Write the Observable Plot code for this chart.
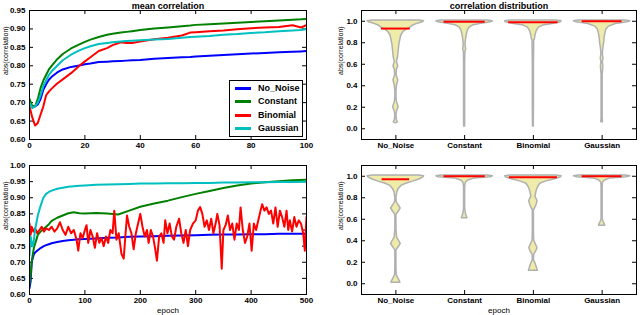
<!DOCTYPE html>
<html><head><meta charset="utf-8">
<script src="https://cdn.jsdelivr.net/npm/d3@7"></script>
<script src="https://cdn.jsdelivr.net/npm/@observablehq/plot@0.6"></script>
<style>
body{margin:0;background:#fff;}
#wrap{position:relative;width:640px;height:315px;overflow:hidden;background:#fff;}
.panel{position:absolute;}
#legend{position:absolute;left:229px;top:80px;width:72px;height:55px;border:1px solid #000;background:#fff;font:bold 9px "Liberation Sans",Arial,sans-serif;color:#000;}
.item{position:absolute;left:0;width:72px;height:12px;}
.sw{position:absolute;left:5px;top:5px;width:16px;height:3px;}
.lb{position:absolute;left:28px;top:0;line-height:12px;}
</style></head>
<body><div id="wrap"></div>
<script>
// ---------- data ----------
const seriesNames = ["No_Noise","Constant","Binomial","Gaussian"];
const seriesColors = ["#0000ff","#008000","#ff0000","#00bfbf"];
const categories = ["No_Noise","Constant","Binomial","Gaussian"];

// top-left: mean correlation, epochs 0..100
const topEpochs = [0,1,2,3,4,5,6,7,8,10,12,15,18,20,22,25,28,30,33,35,37,40,45,50,55,58,60,65,70,75,80,85,90,95,98,100];
const topNoNoise = [0.70,0.69,0.69,0.695,0.71,0.735,0.75,0.762,0.77,0.782,0.79,0.797,0.801,0.804,0.806,0.810,0.811,0.812,0.813,0.814,0.815,0.816,0.819,0.821,0.823,0.824,0.825,0.827,0.829,0.831,0.833,0.835,0.837,0.838,0.839,0.840];
const topConstant = [0.71,0.69,0.69,0.71,0.74,0.76,0.775,0.79,0.80,0.818,0.832,0.847,0.858,0.865,0.871,0.878,0.884,0.887,0.890,0.892,0.894,0.897,0.901,0.904,0.907,0.909,0.911,0.913,0.915,0.917,0.919,0.921,0.923,0.925,0.926,0.927];
const topBinomial = [0.69,0.66,0.638,0.645,0.668,0.69,0.72,0.73,0.738,0.752,0.763,0.78,0.80,0.812,0.823,0.84,0.848,0.856,0.864,0.862,0.862,0.866,0.872,0.876,0.882,0.89,0.891,0.894,0.896,0.899,0.902,0.904,0.905,0.91,0.904,0.91];
const topGaussian = [0.70,0.685,0.69,0.70,0.72,0.745,0.76,0.775,0.785,0.80,0.815,0.83,0.842,0.848,0.853,0.859,0.862,0.864,0.866,0.867,0.868,0.869,0.871,0.873,0.876,0.878,0.879,0.881,0.884,0.886,0.889,0.891,0.894,0.896,0.897,0.899];

// bottom-left: epochs 0..500
const botEpochs = [0,2,4,6,8,10,15,20,25,30,35,40,50,60,70,80,90,100,120,140,160,180,200,225,250,275,300,325,350,375,400,425,450,475,500];
const botNoNoise = [0.62,0.64,0.70,0.715,0.725,0.73,0.737,0.744,0.749,0.753,0.756,0.759,0.763,0.766,0.768,0.770,0.771,0.772,0.774,0.776,0.777,0.779,0.780,0.781,0.782,0.783,0.784,0.785,0.786,0.786,0.787,0.787,0.788,0.788,0.788];
const botConstant = [0.63,0.66,0.70,0.725,0.745,0.757,0.785,0.795,0.803,0.810,0.818,0.828,0.838,0.845,0.852,0.855,0.852,0.851,0.853,0.851,0.848,0.86,0.872,0.882,0.891,0.902,0.912,0.921,0.930,0.938,0.944,0.948,0.951,0.954,0.956];
const botGaussian = [0.72,0.78,0.76,0.75,0.77,0.80,0.845,0.875,0.90,0.912,0.918,0.922,0.928,0.931,0.934,0.936,0.937,0.938,0.940,0.941,0.942,0.943,0.944,0.944,0.945,0.945,0.946,0.946,0.947,0.947,0.948,0.948,0.949,0.949,0.950];
const binomEpochs = [0,2,4,7,10,14,18,22,26,30,35,40,45,50,55,60,65,70,75,80,85,88,92,96,100,103,106,110,114,118,122,126,130,134,138,142,146,150,153,157,161,166,170,173,176,180,184,188,192,196,200,204,208,212,215,219,223,227,230,234,238,242,245,249,253,257,261,265,270,274,278,282,286,290,295,300,304,308,312,316,320,324,328,332,336,339,343,347,350,354,358,362,366,370,374,378,381,385,389,393,397,401,405,409,413,417,420,424,428,432,436,440,444,448,452,456,460,464,467,470,474,478,482,486,490,494,497,500];
const binomVals = [0.82,0.785,0.81,0.795,0.805,0.79,0.80,0.81,0.795,0.805,0.80,0.81,0.795,0.805,0.824,0.80,0.785,0.81,0.79,0.80,0.77,0.736,0.79,0.775,0.80,0.815,0.76,0.80,0.78,0.745,0.79,0.76,0.775,0.75,0.78,0.76,0.80,0.79,0.86,0.77,0.79,0.726,0.711,0.78,0.845,0.81,0.79,0.74,0.79,0.82,0.85,0.81,0.78,0.80,0.76,0.80,0.78,0.74,0.705,0.78,0.79,0.76,0.83,0.79,0.82,0.78,0.77,0.81,0.835,0.79,0.76,0.80,0.75,0.80,0.82,0.83,0.86,0.871,0.85,0.81,0.83,0.80,0.835,0.79,0.82,0.85,0.815,0.68,0.80,0.815,0.845,0.80,0.82,0.77,0.82,0.80,0.87,0.80,0.76,0.78,0.82,0.736,0.82,0.80,0.83,0.86,0.88,0.86,0.87,0.85,0.86,0.82,0.87,0.81,0.86,0.84,0.81,0.86,0.80,0.83,0.795,0.84,0.81,0.83,0.82,0.79,0.736,0.84];

// violins: [value, half-width in category units]
const vTopNoNoise = [[1.008,0.34],[1.0,0.41],[0.99,0.39],[0.98,0.33],[0.96,0.25],[0.94,0.21],[0.92,0.15],[0.90,0.11],[0.87,0.08],[0.83,0.065],[0.78,0.05],[0.72,0.04],[0.66,0.03],[0.62,0.015],[0.58,0.035],[0.55,0.015],[0.50,0.01],[0.45,0.035],[0.40,0.015],[0.35,0.008],[0.30,0.008],[0.25,0.015],[0.20,0.04],[0.16,0.015],[0.12,0.008],[0.08,0.015],[0.06,0.03],[0.05,0.0]];
const vTopConstant = [[1.008,0.34],[1.0,0.41],[0.99,0.38],[0.975,0.22],[0.96,0.12],[0.94,0.07],[0.91,0.045],[0.87,0.03],[0.83,0.02],[0.78,0.012],[0.74,0.022],[0.71,0.01],[0.6,0.008],[0.4,0.008],[0.2,0.008],[0.05,0.008],[0.02,0.006]];
const vTopBinomial = [[1.008,0.34],[1.0,0.41],[0.99,0.40],[0.975,0.28],[0.96,0.14],[0.94,0.08],[0.91,0.05],[0.87,0.03],[0.84,0.025],[0.82,0.012],[0.6,0.008],[0.4,0.008],[0.2,0.008],[0.02,0.006]];
const vTopGaussian = [[1.008,0.34],[1.0,0.41],[0.99,0.37],[0.975,0.2],[0.95,0.1],[0.92,0.06],[0.88,0.045],[0.84,0.035],[0.80,0.03],[0.75,0.018],[0.70,0.01],[0.65,0.02],[0.62,0.01],[0.58,0.018],[0.5,0.008],[0.3,0.008],[0.1,0.008],[0.06,0.012]];
const vBotNoNoise = [[1.008,0.34],[1.0,0.41],[0.99,0.40],[0.97,0.34],[0.95,0.25],[0.93,0.15],[0.91,0.08],[0.88,0.04],[0.85,0.02],[0.80,0.008],[0.76,0.012],[0.73,0.04],[0.70,0.07],[0.67,0.04],[0.64,0.008],[0.5,0.008],[0.43,0.018],[0.40,0.045],[0.37,0.07],[0.34,0.04],[0.31,0.008],[0.15,0.008],[0.08,0.012],[0.05,0.035],[0.02,0.06],[0.01,0.065]];
const vBotConstant = [[1.008,0.34],[1.0,0.41],[0.99,0.38],[0.98,0.15],[0.96,0.05],[0.94,0.018],[0.9,0.008],[0.7,0.008],[0.65,0.018],[0.62,0.035],[0.61,0.04]];
const vBotBinomial = [[1.008,0.34],[1.0,0.41],[0.99,0.40],[0.97,0.30],[0.95,0.18],[0.93,0.10],[0.90,0.07],[0.87,0.05],[0.84,0.04],[0.81,0.03],[0.77,0.06],[0.74,0.05],[0.71,0.03],[0.68,0.008],[0.5,0.008],[0.4,0.012],[0.36,0.04],[0.33,0.06],[0.30,0.04],[0.27,0.012],[0.22,0.008],[0.19,0.03],[0.16,0.045],[0.13,0.06],[0.12,0.065]];
const vBotGaussian = [[1.008,0.34],[1.0,0.41],[0.99,0.36],[0.98,0.12],[0.96,0.04],[0.94,0.012],[0.9,0.008],[0.6,0.008],[0.57,0.025],[0.55,0.04],[0.54,0.045]];
const topMedians = [0.932,0.995,0.99,1.0];
const topMedianHalf = [0.21,0.30,0.36,0.29];
const botMedians = [0.972,1.0,0.99,1.0];
const botMedianHalf = [0.20,0.30,0.35,0.29];

const topYTicks = [0.60,0.65,0.70,0.75,0.80,0.85,0.90,0.95];
const botYTicks = [0.60,0.65,0.70,0.75,0.80,0.85,0.90,0.95,1.00];
const topXTicks = [0,20,40,60,80,100];
const botXTicks = [0,100,200,300,400,500];
const violinYTicks = [0.0,0.2,0.4,0.6,0.8,1.0];
const violinXTicks = [1,2,3,4];

// ---------- helpers ----------
const FONT = "'Liberation Sans', Arial, sans-serif";
const wrap = document.getElementById("wrap");

function commonMarks(o) {
  const fw = o.width - o.ml - o.mr, fh = o.height - o.mt - o.mb;
  const m = [
    Plot.axisY(o.yTicks, {tickSize: 0, tickPadding: 4, tickFormat: o.yFmt, label: null, fontSize: 8, fontWeight: "bold"}),
    Plot.axisX(o.xTicks, {tickSize: 0, tickPadding: 3, tickFormat: o.xFmt, label: null, fontSize: 8, fontWeight: "bold"}),
    Plot.tickY(o.yTicks, {y: d => d, insetRight: fw - 4, stroke: "#000"}),
    Plot.tickY(o.yTicks, {y: d => d, insetLeft: fw - 4, stroke: "#000"}),
    Plot.tickX(o.xTicks, {x: d => d, insetTop: fh - 4, stroke: "#000"}),
    Plot.tickX(o.xTicks, {x: d => d, insetBottom: fh - 4, stroke: "#000"}),
    Plot.text(["abs(correlation)"], {frameAnchor: "left", rotate: -90, dx: o.ylabDx, fontSize: 7, fontWeight: "normal"})
  ];
  if (o.title) m.push(Plot.text([o.title], {frameAnchor: "top", lineAnchor: "bottom", dy: -2, fontSize: 9, fontWeight: "bold"}));
  if (o.xlabel) m.push(Plot.text([o.xlabel], {frameAnchor: "bottom", dy: 18, fontSize: 8, fontWeight: "normal"}));
  return m;
}

function place(svg, left, top) {
  const d = document.createElement("div");
  d.className = "panel"; d.style.left = left + "px"; d.style.top = top + "px";
  d.appendChild(svg); wrap.appendChild(d);
}

function linePanel(o) {
  const series = [o.s0, o.s1, o.s2, o.s3];
  const marks = [];
  series.forEach((s, k) => {
    const ep = s.epochs;
    const rows = s.vals.map((v, i) => ({x: ep[i], y: v}));
    marks.push(Plot.line(rows, {x: "x", y: "y", stroke: seriesColors[k], strokeWidth: 2, clip: true}));
  });
  return Plot.plot({
    width: o.width, height: o.height,
    marginLeft: o.ml, marginRight: o.mr, marginTop: o.mt, marginBottom: o.mb,
    style: {fontFamily: FONT, background: "transparent", color: "#000"},
    x: {domain: o.xDomain},
    y: {domain: o.yDomain},
    marks: [...commonMarks(o), ...marks, Plot.frame({stroke: "#000"})]
  });
}

function violinPanel(o) {
  const rows = [];
  o.violins.forEach((v, k) => v.forEach(([y, w]) => rows.push({c: k + 1, y, w})));
  const med = o.medians.map((m, k) => ({c: k + 1, y: m, h: o.medianHalf[k]}));
  return Plot.plot({
    width: o.width, height: o.height,
    marginLeft: o.ml, marginRight: o.mr, marginTop: o.mt, marginBottom: o.mb,
    style: {fontFamily: FONT, background: "transparent", color: "#000"},
    x: {domain: [0.5, 4.5]},
    y: {domain: [-0.1, 1.1]},
    marks: [
      ...commonMarks(o),
      Plot.areaX(rows, {y: "y", x1: d => d.c - d.w, x2: d => d.c + d.w, z: "c", fill: "#efeba8", stroke: "#b0b0b0", strokeWidth: 1.5}),
      Plot.ruleY(med, {y: "y", x1: d => d.c - d.h, x2: d => d.c + d.h, stroke: "#ff0000", strokeWidth: 2}),
      Plot.frame({stroke: "#000"})
    ]
  });
}

// ---------- panels ----------
place(linePanel({
  width: 320, height: 155, ml: 29, mr: 14, mt: 10, mb: 16,
  xDomain: [0, 100], yDomain: [0.60, 0.95],
  xTicks: topXTicks, yTicks: topYTicks, yFmt: d3.format(".2f"), xFmt: d3.format("d"),
  ylabDx: -24, title: "mean correlation",
  s0: {epochs: topEpochs, vals: topNoNoise}, s1: {epochs: topEpochs, vals: topConstant},
  s2: {epochs: topEpochs, vals: topBinomial}, s3: {epochs: topEpochs, vals: topGaussian}
}), 0, 0);

place(violinPanel({
  width: 320, height: 155, ml: 41, mr: 4, mt: 10, mb: 16,
  xTicks: violinXTicks, yTicks: violinYTicks, yFmt: d3.format(".1f"), xFmt: d => categories[d - 1],
  ylabDx: -21, title: "correlation distribution",
  violins: [vTopNoNoise, vTopConstant, vTopBinomial, vTopGaussian],
  medians: topMedians, medianHalf: topMedianHalf
}), 320, 0);

place(linePanel({
  width: 320, height: 160, ml: 29, mr: 14, mt: 10, mb: 21,
  xDomain: [0, 500], yDomain: [0.60, 1.00],
  xTicks: botXTicks, yTicks: botYTicks, yFmt: d3.format(".2f"), xFmt: d3.format("d"),
  ylabDx: -24, xlabel: "epoch",
  s0: {epochs: botEpochs, vals: botNoNoise}, s1: {epochs: botEpochs, vals: botConstant},
  s2: {epochs: binomEpochs, vals: binomVals}, s3: {epochs: botEpochs, vals: botGaussian}
}), 0, 155);

place(violinPanel({
  width: 320, height: 160, ml: 41, mr: 4, mt: 10, mb: 21,
  xTicks: violinXTicks, yTicks: violinYTicks, yFmt: d3.format(".1f"), xFmt: d => categories[d - 1],
  ylabDx: -21, xlabel: "epoch",
  violins: [vBotNoNoise, vBotConstant, vBotBinomial, vBotGaussian],
  medians: botMedians, medianHalf: botMedianHalf
}), 320, 155);

// ---------- legend ----------
const lg = document.createElement("div");
lg.id = "legend";
seriesNames.forEach((n, k) => {
  const it = document.createElement("div");
  it.className = "item"; it.style.top = (1 + k * 13.3) + "px";
  const sw = document.createElement("div");
  sw.className = "sw"; sw.style.background = seriesColors[k];
  const lb = document.createElement("div");
  lb.className = "lb"; lb.textContent = n;
  it.appendChild(sw); it.appendChild(lb); lg.appendChild(it);
});
wrap.appendChild(lg);
</script></body></html>
